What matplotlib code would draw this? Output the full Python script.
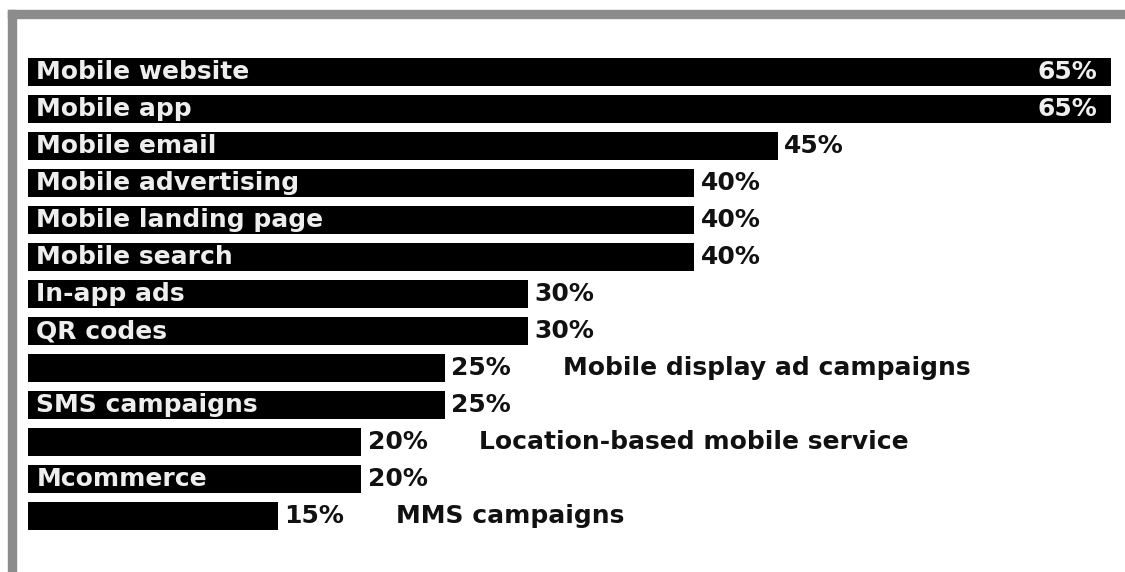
import matplotlib.pyplot as plt
from matplotlib.patches import Rectangle

labels = ['Mobile website', 'Mobile app', 'Mobile email', 'Mobile advertising',
          'Mobile landing page', 'Mobile search', 'In-app ads', 'QR codes',
          '', 'SMS campaigns', '', 'Mcommerce', '']
side_labels = ['', '', '', '', '', '', '', '',
               'Mobile display ad campaigns', '', 'Location-based mobile service', '',
               'MMS campaigns']
values = [65, 65, 45, 40, 40, 40, 30, 30, 25, 25, 20, 20, 15]

W, H = 1125, 572
fig = plt.figure(figsize=(W / 100, H / 100), dpi=100)
fig.patch.set_facecolor('white')

# axes: 0% at x=28px, 16.67 px per percent; bar centres at 72 + 37*i px
px_per = 83.3 / 5
ax = fig.add_axes([28 / W, 0, 1 - 28 / W, 1])
ax.set_xlim(0, (W - 28) / px_per)
ax.set_ylim((H - 72) / 37, -72 / 37)
ax.axis('off')

pos = list(range(len(values)))
ax.barh(pos, values, height=0.78, color='black')

font = dict(fontweight='bold', fontsize=18, family='DejaVu Sans')
for i, (lab, v, side) in enumerate(zip(labels, values, side_labels)):
    if lab:
        ax.text(0.5, i, lab, color='#eeeeee', va='center', ha='left', **font)
    if v >= 60:
        ax.text(v - 0.8, i, f'{v}%', color='#eeeeee', va='center', ha='right', **font)
    else:
        ax.text(v + 0.4, i, f'{v}%', color='#111111', va='center', ha='left', **font)
    if side:
        ax.text(v + 7.1, i, side, color='#111111', va='center', ha='left', **font)

# gray frame at top and left
fig.patches.append(Rectangle((8 / W, 1 - 18 / H), 1, 8 / H, transform=fig.transFigure,
                             color='#8c8c8c', zorder=5))
fig.patches.append(Rectangle((8 / W, 0), 8 / W, 1 - 10 / H, transform=fig.transFigure,
                             color='#8c8c8c', zorder=5))

fig.savefig('out.png', dpi=100)
